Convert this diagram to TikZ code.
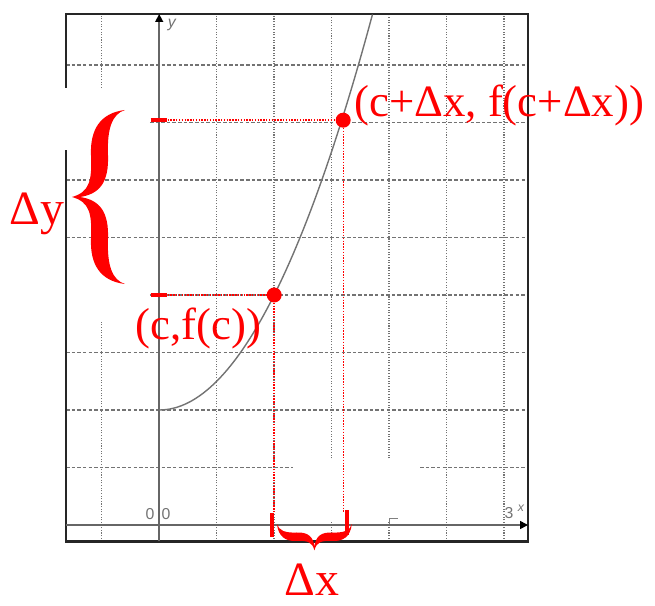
\documentclass[tikz,border=0pt]{standalone}
\usepackage{fontspec}
\setmainfont{Liberation Serif}
\setsansfont{Liberation Sans}
\usetikzlibrary{arrows.meta}

\begin{document}
\begin{tikzpicture}[
  x=2.3cm,
  y=2.3cm,
  gridv/.style={draw=black!55, line width=0.9pt, dash pattern=on 0.6pt off 0.9pt},
  gridh/.style={draw=black!55, line width=0.9pt, dash pattern=on 2pt off 1.2pt},
  axis/.style={draw=black!60, line width=0.9pt},
  graphline/.style={draw=black!55, line width=0.8pt},
  guide/.style={draw=red, line width=0.8pt, dash pattern=on 0.8pt off 0.8pt},
  redtick/.style={draw=red, line width=2.5pt},
  ptdot/.style={circle, fill=red, minimum size=0.3cm, inner sep=0pt},
  lbl/.style={text=red, inner sep=0pt, font=\fontsize{25.5}{28}\selectfont},
  dlbl/.style={text=red, inner sep=0pt, font=\fontsize{27.2}{30}\selectfont},
  axlbl/.style={text=black!55, inner sep=0pt, font=\sffamily\fontsize{9}{10}\selectfont},
  >={Triangle[length=4.5pt, width=4.5pt, black]}
]
\useasboundingbox (-1.3843,-0.6957) rectangle (4.3113,4.5652);

\foreach \gx in {0.5,1,2.5,3}
  \draw[gridv] (\gx,-0.143) -- (\gx,4.443);
\draw[gridv] (-0.5,-0.143) -- (-0.5,1.77) (-0.5,3.8) -- (-0.5,4.443);
\foreach \gx in {1.5,2}
  \draw[gridv] (\gx,-0.143) -- (\gx,0.04) (\gx,0.58) -- (\gx,4.443);
\foreach \gy in {1,1.5,2.5,3,4}
  \draw[gridh] (-0.81,\gy) -- (3.207,\gy);
\foreach \gy in {2,3.5}
  \draw[gridh] (-0.08,\gy) -- (3.207,\gy);
\draw[gridh] (-0.81,0.5) -- (1.163,0.5) (2.268,0.5) -- (3.207,0.5);
\draw[draw=black!50, line width=0.6pt] (2,0) -- (2,0.057) -- (2.078,0.057);

\draw[black!85, line width=1.2pt] (-0.81,3.8) -- (-0.81,4.443) -- (3.207,4.443) -- (3.207,-0.143) -- (-0.81,-0.143) -- (-0.81,3.26);

\draw[axis, ->] (-0.81,0) -- (3.207,0);
\draw[axis, ->] (0,-0.143) -- (0,4.443);

\node[axlbl] (ylab) at (0.11,4.35) {\itshape y};
\node[axlbl] (zeroa) at (-0.08,0.096) {0};
\node[axlbl] (zerob) at (0.059,0.096) {0};
\node[axlbl] (three) at (3.042,0.104) {3};
\node[axlbl, font=\sffamily\fontsize{7}{8}\selectfont] (xlab) at (3.146,0.148) {\itshape x};

\draw[graphline] plot[domain=0:1.855, samples=60] (\x,{1+\x*\x});

\node[ptdot] (pc) at (1,2) {};
\node[ptdot] (pcdx) at (1.6,3.52) {};

\coordinate (cy) at (0,2);
\coordinate (cdxy) at (0,3.52);
\coordinate (cx) at (1,0.11);
\coordinate (cdxx) at (1.6,0.11);

\draw[guide] (cy) -- (pc);
\draw[guide] (pc) -- (cx);
\draw[guide] (cdxy) -- (pcdx);
\draw[guide] (pcdx) -- (cdxx);

\draw[redtick] ([xshift=-0.17cm]cy) -- ([xshift=0.16cm]cy);
\draw[redtick] ([xshift=-0.17cm]cdxy) -- ([xshift=0.16cm]cdxy);
\draw[redtick] (0.98,0.104) -- (0.98,-0.102);
\draw[redtick] (1.633,0.13) -- (1.633,-0.087);

\begin{scope}[shift={(-0.2974,2.8522)}, x={(0.02cm,0)}, y={(0,-0.02cm)}]
  \fill[red] (0,-87) .. controls (-25,-84) and (-35,-67) .. (-34,-42)
    .. controls (-33,-17) and (-35,-5) .. (-53,0)
    .. controls (-35,5) and (-33,17) .. (-34,42)
    .. controls (-35,67) and (-25,84) .. (0,87)
    .. controls (-13,83) and (-18,68) .. (-17,42)
    .. controls (-16,15) and (-25,3) .. (-45,0)
    .. controls (-25,-3) and (-16,-15) .. (-17,-42)
    .. controls (-18,-68) and (-13,-83) .. (0,-87) -- cycle;
\end{scope}
\begin{scope}[shift={(1.3496,0.0087)}, x={(0,0.01cm)}, y={(0.0086cm,0)}]
  \fill[red] (0,-87) .. controls (-25,-84) and (-35,-67) .. (-34,-42)
    .. controls (-33,-17) and (-35,-5) .. (-53,0)
    .. controls (-35,5) and (-33,17) .. (-34,42)
    .. controls (-35,67) and (-25,84) .. (0,87)
    .. controls (-13,83) and (-18,68) .. (-17,42)
    .. controls (-16,15) and (-25,3) .. (-45,0)
    .. controls (-25,-3) and (-16,-15) .. (-17,-42)
    .. controls (-18,-68) and (-13,-83) .. (0,-87) -- cycle;
\end{scope}

\node[lbl, anchor=base west] (pclbl) at (-0.2104,1.6087) {(c,f(c))};
\node[lbl, anchor=base west] (pcdxlbl) at (1.6939,3.5478) {(c+Δx, f(c+Δx))};
\node[dlbl, anchor=base west] (dylbl) at (-1.3017,2.6087) {Δy};
\node[dlbl, anchor=base] (dxlbl) at (1.3261,-0.6087) {Δx};
\end{tikzpicture}
\end{document}
